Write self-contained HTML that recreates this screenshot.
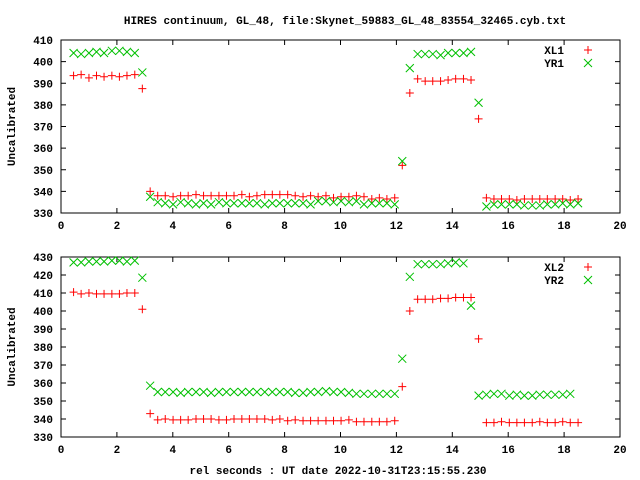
<!DOCTYPE html>
<html><head><meta charset="utf-8"><style>
body{margin:0;background:#fff}
svg{display:block;font-family:"Liberation Mono","DejaVu Sans Mono",monospace;font-weight:bold;font-size:11px}
</style></head><body>
<svg id="chart" width="640" height="480" xmlns="http://www.w3.org/2000/svg">
<rect width="640" height="480" fill="#fff"/>
<text x="345" y="24" text-anchor="middle">HIRES continuum, GL_48, file:Skynet_59883_GL_48_83554_32465.cyb.txt</text>
<text x="338" y="474" text-anchor="middle">rel seconds : UT date 2022-10-31T23:15:55.230</text>
<g id="g1"></g>
<g id="g2"></g>
</svg>
<script>
const times=[0.45,0.72,1.00,1.27,1.54,1.82,2.09,2.36,2.64,2.91,3.19,3.46,3.73,4.01,4.28,4.55,4.83,5.10,5.37,5.65,5.92,6.19,6.47,6.74,7.01,7.29,7.56,7.83,8.11,8.38,8.66,8.93,9.20,9.48,9.75,10.02,10.30,10.57,10.84,11.12,11.39,11.66,11.94,12.21,12.48,12.76,13.03,13.30,13.58,13.85,14.12,14.40,14.67,14.94,15.22,15.49,15.76,16.04,16.31,16.58,16.86,17.13,17.40,17.68,17.95,18.22,18.50];
const xl1=[393.5,394,392.5,393.5,393,393.5,393,393.5,394,387.5,340,
338,338,337.5,338,338,338.5,338,338,338,338,338,338.5,337.5,338,338.5,338.5,338.5,338.5,338,337.5,338,337.5,338,337,337.5,337.5,338,337.5,336.5,337,336.5,337,
352,385.5,392,391,391,391,391.5,392,392,391.5,373.5,
337,336.5,336.5,336.5,336,336.5,336.5,336.5,336.5,336.5,336.5,336,336.5];
const yr1=[404,403.5,404,404.5,404,405,405,404.5,404,395,337.5,
335,334.5,334,335,334.5,334,334.5,334,335,334.5,334.5,334.5,334.5,334.5,334,334.5,334.5,334.5,334.5,334.5,334,335.5,335.5,335,335.5,335,335.5,334,334.5,334.5,334.5,334,
354,397,403.5,403.5,403.5,403,404,404,404,404.5,381,
333,334,334,334,334,333.5,333.5,333.5,334,334,334.5,334,334.5];
const xl2=[410.5,409.5,410,409.5,409.5,409.5,409.5,410,410,401,343,
339.5,340,339.5,339.5,339.5,340,340,340,339.5,339.5,340,340,340,340,340,339.5,340,339,339.5,339,339,339,339,339,339,339.5,338.5,338.5,338.5,338.5,338.5,339,
358,400,406.5,406.5,406.5,407,407,407.5,407.5,407.5,384.5,
338,338,338.5,338,338,338,338,338.5,338,338,338.5,338,338];
const yr2=[427,427,427.5,427.5,427.5,428,428,427.5,428,418.5,358.5,
355,355,355,354.5,355,355,355,354.5,355,355,355,355,355,355,355,355,355,355,354.5,354.5,355,355,355.5,355,355,354.5,354,354,354,354,354,354,
373.5,419,426,426,426,426,426.5,427,426.5,403,
353,353.5,354,354,353,353.5,353,353,353.5,353.5,353.5,353.5,354];
const xTicks=[0,2,4,6,8,10,12,14,16,18,20];
const yTicks1=[330,340,350,360,370,380,390,400,410];
const yTicks2=[330,340,350,360,370,380,390,400,410,420,430];
const NS="http://www.w3.org/2000/svg";
function mk(p,tag,a){const e=document.createElementNS(NS,tag);for(const k in a)e.setAttribute(k,a[k]);p.appendChild(e);return e;}
function panel(g,top,bot,ymin,ymax,yTicks,s1,s2,n1,n2){
 const L=61,R=620;
 const X=v=>L+(v-0)/(20-0)*(R-L);
 const Y=v=>bot-(v-ymin)/(ymax-ymin)*(bot-top);
 const fr=mk(g,'rect',{x:L,y:top,width:R-L,height:bot-top,fill:'none',stroke:'#000','stroke-width':1});
 
 
 xTicks.forEach(v=>{
  const x=X(v);
  mk(g,'line',{x1:x,y1:bot,x2:x,y2:bot-5,stroke:'#000'});
  mk(g,'line',{x1:x,y1:top,x2:x,y2:top+5,stroke:'#000'});
  const t=mk(g,'text',{x:x,y:bot+16,'text-anchor':'middle'});t.textContent=v;
  
  
 });
 yTicks.forEach(v=>{
  const y=Y(v);
  mk(g,'line',{x1:L,y1:y,x2:L+5,y2:y,stroke:'#000'});
  mk(g,'line',{x1:R,y1:y,x2:R-5,y2:y,stroke:'#000'});
  const t=mk(g,'text',{x:53,y:y+4,'text-anchor':'end'});t.textContent=v;
  
  
 });
 const yt=mk(g,'text',{x:0,y:0,'text-anchor':'middle',transform:`translate(15,${(top+bot)/2}) rotate(-90)`});
 yt.textContent='Uncalibrated';
 
 
 function plus(x,y,c){mk(g,'path',{d:`M${x-4},${y}h8M${x},${y-4}v8`,stroke:c,'stroke-width':1,fill:'none'});}
 function cross(x,y,c){mk(g,'path',{d:`M${x-4},${y-4}l8,8M${x-4},${y+4}l8,-8`,stroke:c,'stroke-width':1,fill:'none'});}
 times.forEach((t,i)=>plus(X(t),Y(s1[i]),'#ff0000'));
 times.forEach((t,i)=>cross(X(t),Y(s2[i]),'#00c000'));
 const l1=mk(g,'text',{x:564,y:top+14,'text-anchor':'end'});l1.textContent=n1;
 
 
 plus(588,top+10,'#ff0000');
 const l2=mk(g,'text',{x:564,y:top+27,'text-anchor':'end'});l2.textContent=n2;
 
 
 cross(588,top+23,'#00c000');
}
panel(document.getElementById('g1'),40,213,330,410,yTicks1,xl1,yr1,'XL1','YR1');
panel(document.getElementById('g2'),257,437,330,430,yTicks2,xl2,yr2,'XL2','YR2');
</script>
</body></html>
